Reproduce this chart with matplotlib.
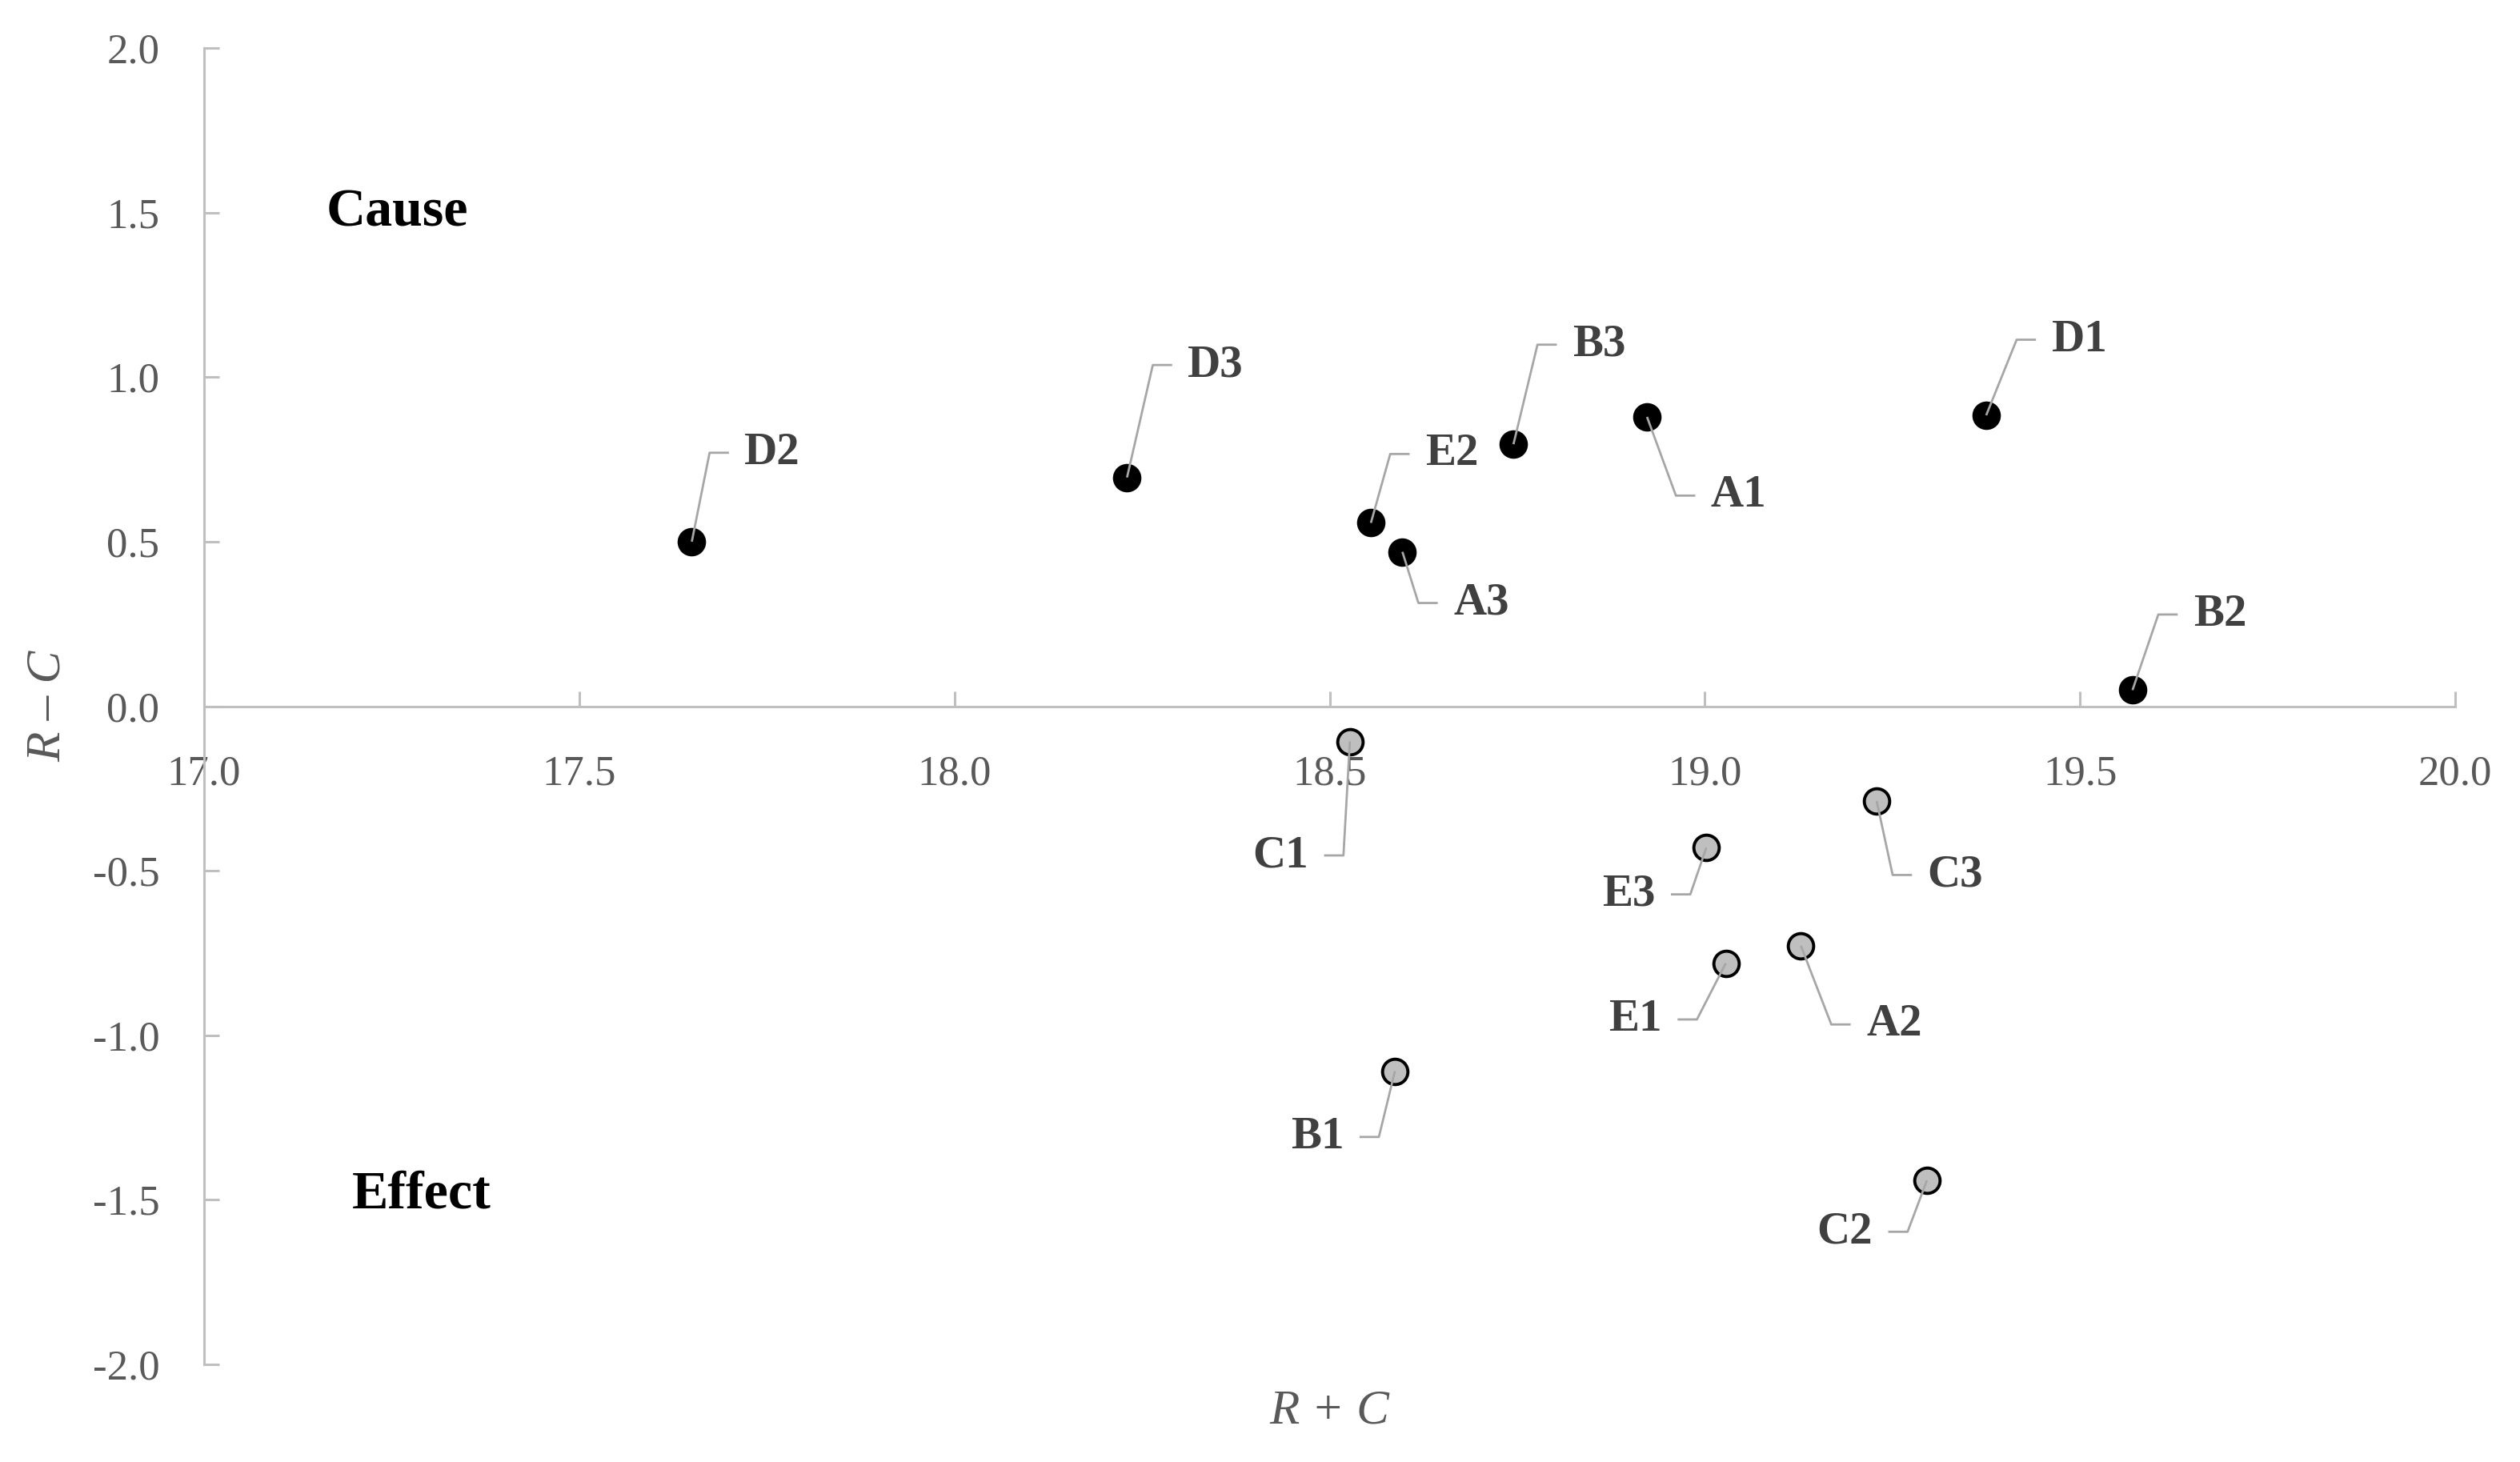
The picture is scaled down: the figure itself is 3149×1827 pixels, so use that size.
import numpy as np
import matplotlib
matplotlib.use('Agg')
import matplotlib.pyplot as plt
from matplotlib.ticker import FormatStrFormatter, MultipleLocator

# data ------------------------------------------------------------------------

causeLabels = ['D2', 'D3', 'E2', 'A3', 'B3', 'A1', 'D1', 'B2']
causeX = [17.65, 18.23, 18.555, 18.597, 18.745, 18.923, 19.375, 19.57]
causeY = [0.50, 0.695, 0.557, 0.469, 0.796, 0.879, 0.884, 0.049]

effectLabels = ['C1', 'C3', 'E3', 'A2', 'E1', 'B1', 'C2']
effectX = [18.527, 19.229, 19.002, 19.128, 19.028, 18.587, 19.296]
effectY = [-0.107, -0.288, -0.43, -0.728, -0.781, -1.109, -1.441]

# leader line elbow offsets (points) from each marker
elbows = {
    'D2': (8, 40), 'D3': (11.6, 50.6), 'E2': (8.7, 31), 'A3': (7.2, -23),
    'B3': (10.8, 44.8), 'A1': (13, -35.4), 'D1': (13.7, 34), 'B2': (11.6, 34),
    'C1': (-2.9, -51.3), 'C3': (7.2, -33.3), 'E3': (-7.2, -21),
    'A2': (13.7, -35.4), 'E1': (-13, -25.3), 'B1': (-7.2, -29.6),
    'C2': (-8.7, -23.1),
}
leftSide = ['C1', 'E3', 'E1', 'B1', 'C2']

# styles ----------------------------------------------------------------------

DPI = 200
SEG = 8.7      # horizontal leader segment, points
GAP = 7.0      # gap between segment and label text, points
LINE_COLOR = '#a6a6a6'
AXIS_COLOR = '#bfbfbf'

plt.rcParams['font.family'] = ['Liberation Serif', 'DejaVu Serif']
plt.rcParams['axes.unicode_minus'] = False

fig = plt.figure(figsize=(3149 / DPI, 1827 / DPI), dpi=DPI)
ax = fig.add_axes([255 / 3149, 1 - 1705 / 1827, (3068 - 255) / 3149, (1705 - 60) / 1827])

ax.set_xlim(17.0, 20.0)
ax.set_ylim(-2.0, 2.0)

ax.spines['top'].set_visible(False)
ax.spines['right'].set_visible(False)
ax.spines['bottom'].set_position(('data', 0))
for side in ['left', 'bottom']:
    ax.spines[side].set_color(AXIS_COLOR)
    ax.spines[side].set_linewidth(1.1)

ax.xaxis.set_major_locator(MultipleLocator(0.5))
ax.yaxis.set_major_locator(MultipleLocator(0.5))
ax.xaxis.set_major_formatter(FormatStrFormatter('%.1f'))
ax.yaxis.set_major_formatter(FormatStrFormatter('%.1f'))
ax.tick_params(axis='both', direction='in', length=7, width=1.1,
               color=AXIS_COLOR, labelcolor='#595959', labelsize=19)
ax.tick_params(axis='y', pad=20)
ax.tick_params(axis='x', pad=22)

ax.scatter(causeX, causeY, s=130, c='black', edgecolors='black',
           linewidths=1.4, zorder=3)
ax.scatter(effectX, effectY, s=130, c='#bfbfbf', edgecolors='black',
           linewidths=1.4, zorder=3)

# leader lines + labels
k = DPI / 72.0
toData = ax.transData.inverted()
for labels, xs, ys in [(causeLabels, causeX, causeY), (effectLabels, effectX, effectY)]:
    for lab, x, y in zip(labels, xs, ys):
        ex, ey = elbows[lab]
        sgn = -1 if lab in leftSide else 1
        p0 = ax.transData.transform((x, y))
        p1 = p0 + np.array([ex, ey]) * k
        p2 = p1 + np.array([sgn * SEG, 0]) * k
        pts = toData.transform(np.vstack([p0, p1, p2]))
        ax.plot(pts[:, 0], pts[:, 1], color=LINE_COLOR, lw=1.0, zorder=4,
                solid_capstyle='butt')
        ax.annotate(lab, xy=(x, y), xytext=(ex + sgn * (SEG + GAP), ey),
                    textcoords='offset points', ha='right' if sgn < 0 else 'left',
                    va='center', fontsize=20.5, fontweight='bold', color='#404040')

ax.text(17.163, 1.50, 'Cause', fontsize=24.5, fontweight='bold', color='black',
        ha='left', va='center')
ax.text(17.197, -1.485, 'Effect', fontsize=24.5, fontweight='bold', color='black',
        ha='left', va='center')

fig.text(1661 / 3149, 1 - 1764 / 1827, 'R + C', fontsize=22,
         color='#595959', ha='center', va='center', style='italic')
fig.text(60 / 3149, 1 - 882 / 1827, 'R – C', fontsize=22, color='#595959',
         ha='center', va='center', style='italic', rotation=90)

fig.savefig('out.png', dpi=DPI)
